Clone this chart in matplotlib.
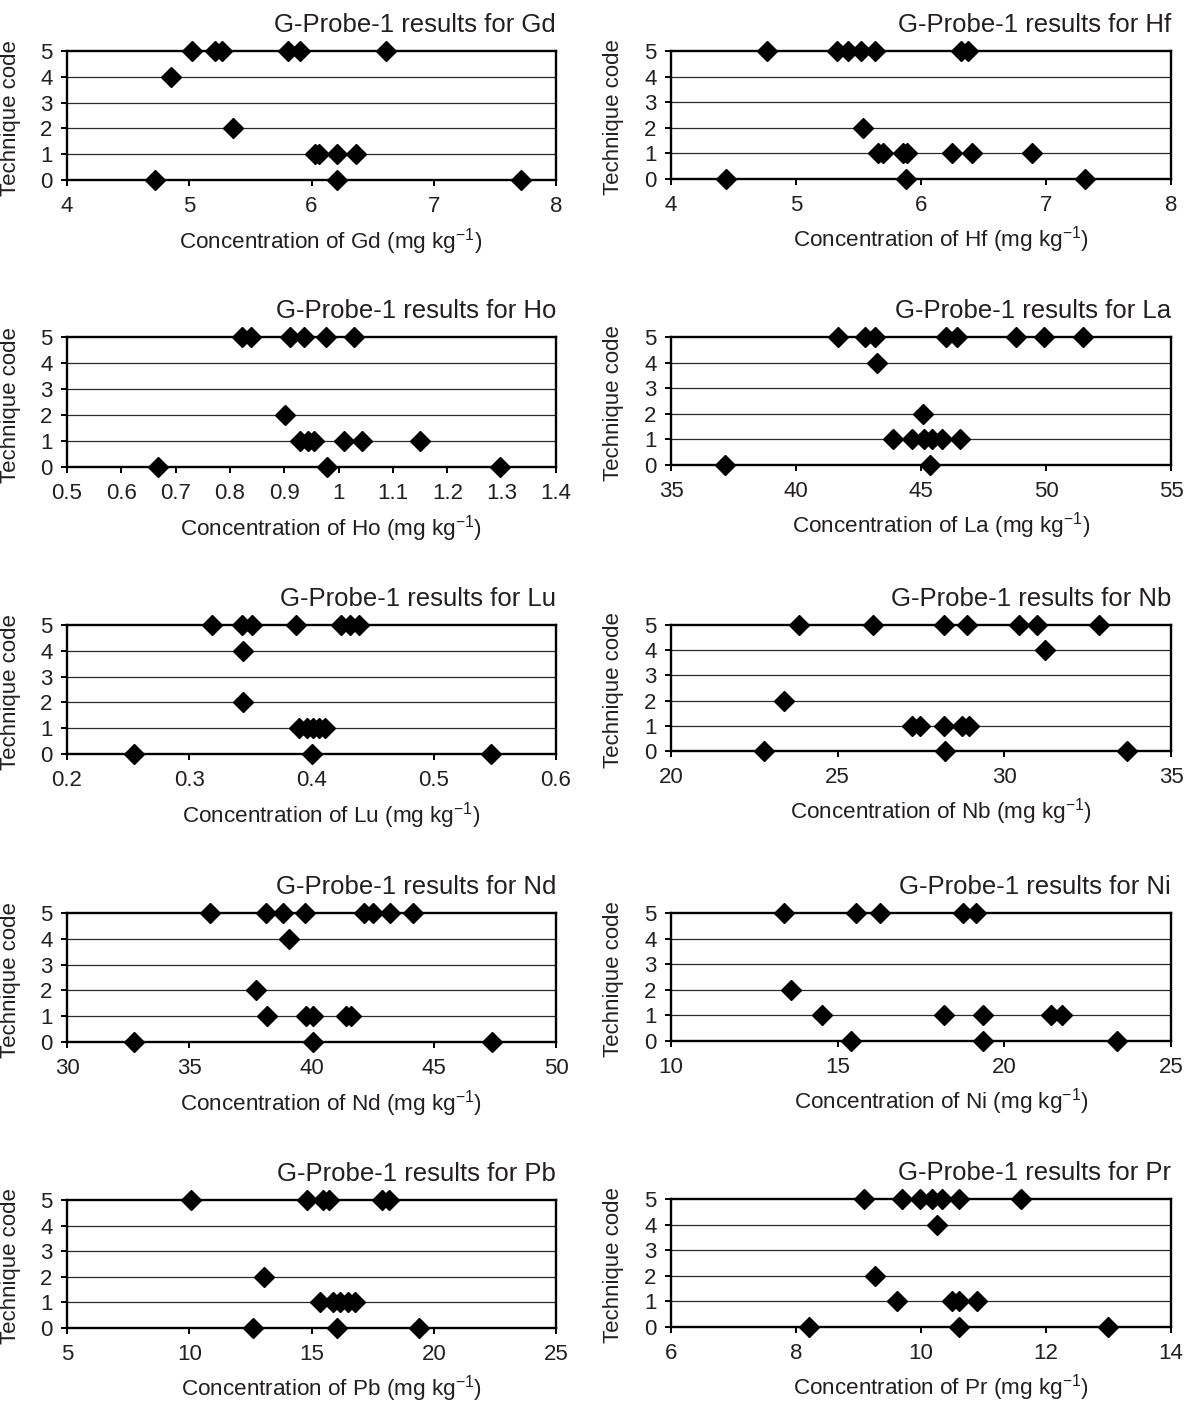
import matplotlib
matplotlib.use("Agg")
import matplotlib.pyplot as plt
import numpy as np

plt.rcParams['font.family'] = ['Liberation Sans', 'DejaVu Sans']
plt.rcParams['mathtext.fontset'] = 'custom'
plt.rcParams['mathtext.rm'] = 'Liberation Sans'

elements = ["Gd", "Hf", "Ho", "La", "Lu", "Nb", "Nd", "Ni", "Pb", "Pr"]

gd_conc = [5.02, 5.21, 5.27, 5.81, 5.91, 6.61, 4.85, 5.36, 6.03, 6.06, 6.21, 6.36, 4.72, 6.21, 7.71]
gd_code = [5, 5, 5, 5, 5, 5, 4, 2, 1, 1, 1, 1, 0, 0, 0]

hf_conc = [4.77, 5.33, 5.42, 5.52, 5.63, 6.32, 6.38, 5.54, 5.66, 5.70, 5.86, 5.89, 6.25, 6.41, 6.89, 4.44, 5.88, 7.31]
hf_code = [5, 5, 5, 5, 5, 5, 5, 2, 1, 1, 1, 1, 1, 1, 1, 0, 0, 0]

ho_conc = [0.823, 0.838, 0.91, 0.937, 0.977, 1.029, 0.902, 0.929, 0.944, 0.954, 1.01, 1.043, 1.15, 0.667, 0.979, 1.297]
ho_code = [5, 5, 5, 5, 5, 5, 2, 1, 1, 1, 1, 1, 1, 0, 0, 0]

la_conc = [41.67, 42.77, 43.15, 45.98, 46.44, 48.8, 49.9, 51.47, 43.23, 45.09, 43.87, 44.63, 45.12, 45.43, 45.83, 46.54, 37.14, 45.37]
la_code = [5, 5, 5, 5, 5, 5, 5, 5, 4, 2, 1, 1, 1, 1, 1, 1, 0, 0]

lu_conc = [0.319, 0.343, 0.351, 0.387, 0.4245, 0.4315, 0.439, 0.344, 0.344, 0.390, 0.396, 0.401, 0.406, 0.411, 0.255, 0.400, 0.547]
lu_code = [5, 5, 5, 5, 5, 5, 5, 4, 2, 1, 1, 1, 1, 1, 0, 0, 0]

nb_conc = [23.85, 26.05, 28.18, 28.87, 30.44, 30.98, 32.85, 31.22, 23.39, 27.23, 27.46, 28.18, 28.72, 28.95, 22.78, 28.23, 33.68]
nb_code = [5, 5, 5, 5, 5, 5, 5, 4, 2, 1, 1, 1, 1, 1, 0, 0, 0]

nd_conc = [35.86, 38.12, 38.83, 39.74, 42.15, 42.53, 43.2, 44.16, 39.06, 37.73, 38.18, 39.78, 40.07, 41.4, 41.62, 32.75, 40.08, 47.4]
nd_code = [5, 5, 5, 5, 5, 5, 5, 5, 4, 2, 1, 1, 1, 1, 1, 0, 0, 0]

ni_conc = [13.38, 15.54, 16.27, 18.77, 19.15, 13.59, 14.53, 18.2, 19.35, 21.41, 21.73, 15.41, 19.35, 23.38]
ni_code = [5, 5, 5, 5, 5, 2, 1, 1, 1, 1, 1, 0, 0, 0]

pb_conc = [10.08, 14.8, 15.47, 15.7, 17.87, 18.17, 13.05, 15.35, 15.88, 16.18, 16.48, 16.76, 12.61, 16.03, 19.39]
pb_code = [5, 5, 5, 5, 5, 5, 2, 1, 1, 1, 1, 1, 0, 0, 0]

pr_conc = [9.09, 9.7, 9.99, 10.18, 10.33, 10.61, 11.6, 10.25, 9.27, 9.62, 10.49, 10.61, 10.9, 8.2, 10.61, 13.0]
pr_code = [5, 5, 5, 5, 5, 5, 5, 4, 2, 1, 1, 1, 1, 0, 0, 0]

x_min = [4, 4, 0.5, 35, 0.2, 20, 30, 10, 5, 6]
x_max = [8, 8, 1.4, 55, 0.6, 35, 50, 25, 25, 14]
x_step = [1, 1, 0.1, 5, 0.1, 5, 5, 5, 5, 2]
y_ticks = [0, 1, 2, 3, 4, 5]

concs = [gd_conc, hf_conc, ho_conc, la_conc, lu_conc, nb_conc, nd_conc, ni_conc, pb_conc, pr_conc]
codes = [gd_code, hf_code, ho_code, la_code, lu_code, nb_code, nd_code, ni_code, pb_code, pr_code]

W, H = 1186, 1403
fig = plt.figure(figsize=(W / 100, H / 100), dpi=100)

left_px = [67, 671]
width_px = [489, 500]
rows_left = [(51, 180), (337, 467), (625, 754), (913, 1042), (1200, 1328)]
rows_right = [(51, 179), (337, 465), (625, 751), (913, 1041), (1199, 1327)]

txt = '#231f20'

def fmt(v):
    s = ('%.1f' % v).rstrip('0').rstrip('.')
    return s

for i, el in enumerate(elements):
    r, c = divmod(i, 2)
    top, bot = (rows_left if c == 0 else rows_right)[r]
    ax = fig.add_axes([left_px[c] / W, 1 - bot / H, width_px[c] / W, (bot - top) / H])
    ax.set_xlim(x_min[i], x_max[i])
    ax.set_ylim(0, 5)
    n = int(round((x_max[i] - x_min[i]) / x_step[i]))
    xt = [x_min[i] + k * x_step[i] for k in range(n + 1)]
    ax.set_xticks(xt)
    ax.set_xticklabels([fmt(v) for v in xt])
    ax.set_yticks(y_ticks)
    for yv in [1, 2, 3, 4]:
        ax.axhline(yv, color='#2a2a2a', lw=0.9, zorder=1)
    for s in ['left', 'bottom', 'top', 'right']:
        ax.spines[s].set_color('black')
        ax.spines[s].set_linewidth(1.7)
    ax.tick_params(axis='both', direction='out', length=4.5, width=1.4, colors='black',
                   labelsize=16, labelcolor=txt)
    ax.tick_params(axis='x', pad=7)
    ax.tick_params(axis='y', pad=6)
    ax.plot(concs[i], codes[i], linestyle='none', marker='D', ms=10, color='black',
            mec='black', clip_on=False, zorder=5)
    ax.set_title('G-Probe-1 results for ' + el, loc='right', fontsize=18.5, color=txt, pad=14)
    ax.set_ylabel('Technique code', fontsize=16, color=txt)
    ax.yaxis.set_label_coords(-0.095, 0.48)
    ax.set_xlabel('Concentration of ' + el + r' (mg kg$^{\mathregular{-1}}$)', fontsize=16.2, color=txt)
    ax.xaxis.set_label_coords(0.54, -0.355)
    ax.xaxis.label.set_va('top')

fig.savefig('out.png', dpi=100, facecolor='white')
